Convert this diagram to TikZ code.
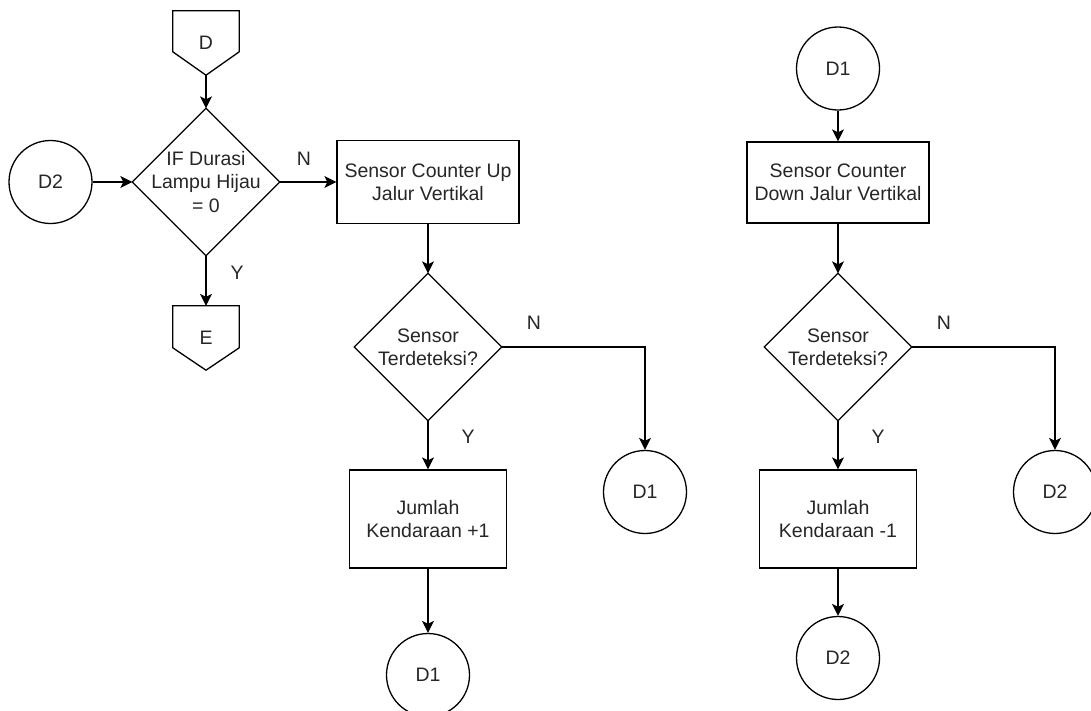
\documentclass[tikz,border=0pt]{standalone}
\usepackage{fontspec}
\setmainfont{Liberation Sans}
\usetikzlibrary{arrows.meta,calc}
\begin{document}
\begin{tikzpicture}[x=1pt,y=-1pt,
  every node/.style={font=\fontsize{19.5}{23.4}\selectfont, text=black!85},
  ln/.style={line width=1.3pt, draw=black},
  arr/.style={ln, -{Stealth[length=12pt,width=12pt,inset=3pt]}},
  procbox/.style={rectangle, draw=black, line width=1.3pt, align=center, inner sep=0pt},
  decision/.style={rectangle, minimum width=147pt, minimum height=147pt, inner sep=0pt, align=center},
  connector/.style={circle, draw=black, line width=1.3pt, minimum size=83pt, inner sep=0pt},
  offpage/.style={rectangle, minimum width=66pt, minimum height=64pt, inner sep=0pt},
  lbl/.style={inner sep=0pt}
]
\useasboundingbox (0,0) rectangle (1091,710);

% ---- left column: start of section D ----
\node[offpage] (D) at (206,43) {D};
\draw[ln] (D.north west) -- (D.north east) -- ($(D.north east)+(0,41)$)
  -- (D.south) -- ($(D.north west)+(0,41)$) -- cycle;

\node[decision] (A) at (206,182) {IF Durasi\\Lampu Hijau\\= 0};
\draw[ln] (A.north) -- (A.east) -- (A.south) -- (A.west) -- cycle;

\node[connector] (L2) at (50.5,182) {D2};

\node[offpage] (E) at (206,338) {E};
\draw[ln] (E.north west) -- (E.north east) -- ($(E.north east)+(0,42)$)
  -- (E.south) -- ($(E.north west)+(0,42)$) -- cycle;

% ---- counter up branch ----
\node[procbox, minimum width=182pt, minimum height=83pt] (P1) at (428,182)
  {Sensor Counter Up\\Jalur Vertikal};

\node[decision] (B) at (428,347) {Sensor\\Terdeteksi?};
\draw[ln] (B.north) -- (B.east) -- (B.south) -- (B.west) -- cycle;

\node[procbox, minimum width=157pt, minimum height=98pt] (P2) at (428,519)
  {Jumlah\\Kendaraan +1};

\node[connector] (C1) at (428,675) {D1};
\node[connector] (R1) at (645,492) {D1};

% ---- counter down branch ----
\node[connector] (T1) at (838,68.5) {D1};

\node[procbox, minimum width=182pt, minimum height=81pt] (P3) at (838,182.5)
  {Sensor Counter\\Down Jalur Vertikal};

\node[decision] (Cd) at (838,347) {Sensor\\Terdeteksi?};
\draw[ln] (Cd.north) -- (Cd.east) -- (Cd.south) -- (Cd.west) -- cycle;

\node[procbox, minimum width=157pt, minimum height=98pt] (P4) at (838,519)
  {Jumlah\\Kendaraan -1};

\node[connector] (C2) at (838,658) {D2};
\node[connector] (R2) at (1055,492) {D2};

% ---- connectors ----
\draw[arr] (D.south) -- (A.north);
\draw[arr] (L2.east) -- (A.west);
\draw[arr] (A.east) -- (P1.west);
\draw[arr] (A.south) -- (E.north);

\draw[arr] (P1.south) -- (B.north);
\draw[arr] (B.east) -| (R1.north);
\draw[arr] (B.south) -- (P2.north);
\draw[arr] (P2.south) -- (C1.north);

\draw[arr] (T1.south) -- (P3.north);
\draw[arr] (P3.south) -- (Cd.north);
\draw[arr] (Cd.east) -| (R2.north);
\draw[arr] (Cd.south) -- (P4.north);
\draw[arr] (P4.south) -- (C2.north);

% ---- branch labels ----
\node[lbl] (n1) at (304,159) {N};
\node[lbl] (y1) at (237,273) {Y};
\node[lbl] (n2) at (534,323) {N};
\node[lbl] (y2) at (468,437) {Y};
\node[lbl] (n3) at (944,323) {N};
\node[lbl] (y3) at (878,437) {Y};
\end{tikzpicture}
\end{document}
